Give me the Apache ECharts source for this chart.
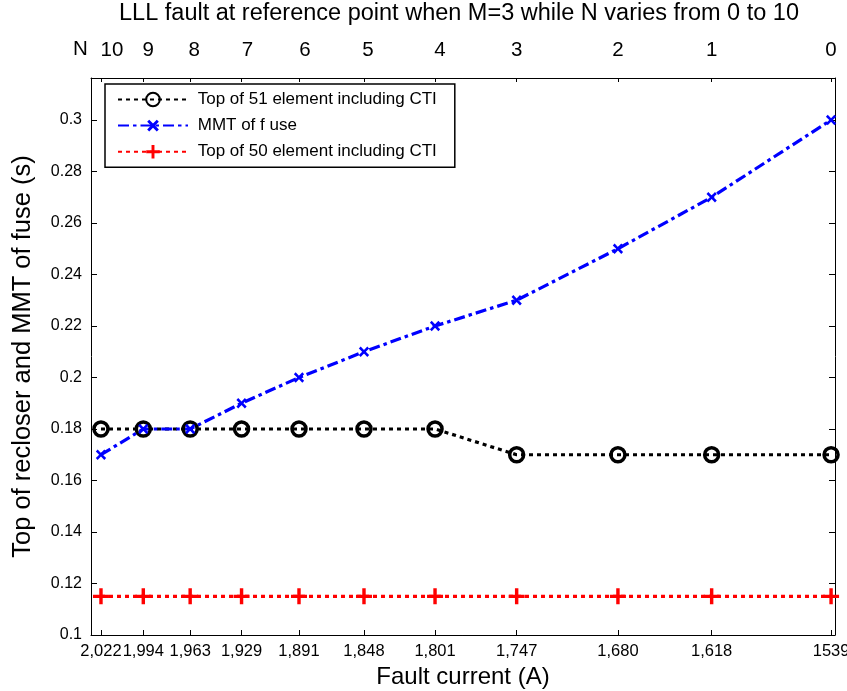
<!DOCTYPE html>
<html>
<head>
<meta charset="utf-8">
<script src="https://cdn.jsdelivr.net/npm/echarts@6/dist/echarts.min.js"></script>
<style>html,body{margin:0;padding:0;background:#fff}#c{width:847px;height:691px}</style>
</head>
<body>
<div id="c"></div>
<script>
var currents = [2022, 1994, 1963, 1929, 1891, 1848, 1801, 1747, 1680, 1618, 1539];
var currentLabels = ['2,022', '1,994', '1,963', '1,929', '1,891', '1,848', '1,801', '1,747', '1,680', '1,618', '1539'];
var nLabels = ['10', '9', '8', '7', '6', '5', '4', '3', '2', '1', '0'];
var top51 = [0.18, 0.18, 0.18, 0.18, 0.18, 0.18, 0.18, 0.17, 0.17, 0.17, 0.17];
var mmtFuse = [0.17, 0.18, 0.18, 0.19, 0.20, 0.21, 0.22, 0.23, 0.25, 0.27, 0.30];
var top50 = [0.115, 0.115, 0.115, 0.115, 0.115, 0.115, 0.115, 0.115, 0.115, 0.115, 0.115];
var seriesNames = ['Top of 51 element including CTI', 'MMT of f use', 'Top of 50 element including CTI'];

function pairs(ys) { return currents.map(function (x, i) { return [x, ys[i]]; }); }
var FONT = 'Liberation Sans, Arial, sans-serif';
var plus = 'path://M5.5,0H8.5V5.5H14V8.5H8.5V14H5.5V8.5H0V5.5H5.5Z';

// horizontal nudges (px) of the top N labels relative to their ticks, as in the reference
var nShift = [11, 5, 4, 6, 6, 4, 5, 0, 0, 0, 0];
var nRich = {};
nShift.forEach(function (d, i) { nRich['s' + i] = {fontSize: 20.5, color: '#000', padding: [0, 0, 0, 2 * d]}; });

var chart = echarts.init(document.getElementById('c'), null, {renderer: 'canvas'});
chart.setOption({
  animation: false,
  backgroundColor: '#fff',
  textStyle: {fontFamily: FONT},
  grid: {left: 91, right: 12, top: 78, bottom: 56, containLabel: false, outerBoundsMode: 'none'},
  graphic: [
    {type: 'text', x: 459, y: 2, style: {text: 'LLL fault at reference point when M=3 while N varies from 0 to 10', font: '23.5px ' + FONT, fill: '#000', textAlign: 'center'}},
    {type: 'text', x: 73, y: 39, style: {text: 'N', font: '20.5px ' + FONT, fill: '#000'}}
  ],
  legend: {
    orient: 'vertical', left: 105, top: 84,
    backgroundColor: '#fff', borderColor: '#000', borderWidth: 1.5,
    padding: [7, 18, 7, 12],
    itemWidth: 70, itemHeight: 17, itemGap: 8,
    formatter: ' {name}',
    textStyle: {fontSize: 17, color: '#000', fontFamily: FONT},
    data: seriesNames
  },
  xAxis: [{
    type: 'value', inverse: true, min: 1536.4, max: 2028.6, position: 'bottom',
    name: 'Fault current (A)', nameLocation: 'middle', nameGap: 28,
    nameTextStyle: {fontSize: 24, color: '#000'},
    axisLine: {show: true, lineStyle: {color: '#000', width: 1}},
    axisTick: {inside: true, length: 5, customValues: currents, lineStyle: {color: '#000'}},
    axisLabel: {customValues: currents, margin: 8, fontSize: 16.5, color: '#000', hideOverlap: false,
      formatter: function (v) { var i = currents.indexOf(Math.round(v)); return i >= 0 ? currentLabels[i] : ''; }},
    splitLine: {show: false}
  }, {
    type: 'value', inverse: true, min: 1536.4, max: 2028.6, position: 'top',
    axisLine: {show: true, lineStyle: {color: '#000', width: 1}},
    axisTick: {inside: true, length: 4, customValues: currents, lineStyle: {color: '#000'}},
    axisLabel: {customValues: currents, margin: 17, fontSize: 20.5, color: '#000', rich: nRich,
      formatter: function (v) { var i = currents.indexOf(Math.round(v)); return i >= 0 ? '{s' + i + '|' + nLabels[i] + '}' : ''; }},
    splitLine: {show: false}
  }],
  yAxis: [{
    type: 'value', min: 0.1, max: 0.3163, interval: 0.02, position: 'left',
    name: 'Top of recloser and MMT of fuse (s)', nameLocation: 'middle', nameGap: 55,
    nameTextStyle: {fontSize: 25.5, color: '#000'},
    axisLine: {show: true, lineStyle: {color: '#000', width: 1}},
    axisTick: {inside: true, length: 6, lineStyle: {color: '#000'}},
    axisLabel: {margin: 9, fontSize: 16, color: '#000', showMaxLabel: false},
    splitLine: {show: false}
  }, {
    type: 'value', min: 0.1, max: 0.3163, interval: 0.02, position: 'right',
    axisLine: {show: true, lineStyle: {color: '#000', width: 1}},
    axisTick: {inside: true, length: 6, lineStyle: {color: '#000'}},
    axisLabel: {show: false},
    splitLine: {show: false}
  }],
  series: [{
    name: seriesNames[0], type: 'line', data: pairs(top51),
    symbol: 'circle', symbolSize: 14,
    itemStyle: {color: 'rgba(255,255,255,0)', borderColor: '#000', borderWidth: 3.5},
    lineStyle: {color: '#000', width: 3.2, type: [4, 4]}
  }, {
    name: seriesNames[1], type: 'line', data: pairs(mmtFuse),
    symbol: plus, symbolSize: 12, symbolRotate: 45,
    itemStyle: {color: '#0000ff'},
    lineStyle: {color: '#0000ff', width: 3.2, type: [11, 4, 3.5, 4]}
  }, {
    name: seriesNames[2], type: 'line', data: pairs(top50),
    symbol: plus, symbolSize: 16,
    itemStyle: {color: '#ff0000'},
    lineStyle: {color: '#ff0000', width: 3.2, type: [4, 4]}
  }]
});
</script>
</body>
</html>
